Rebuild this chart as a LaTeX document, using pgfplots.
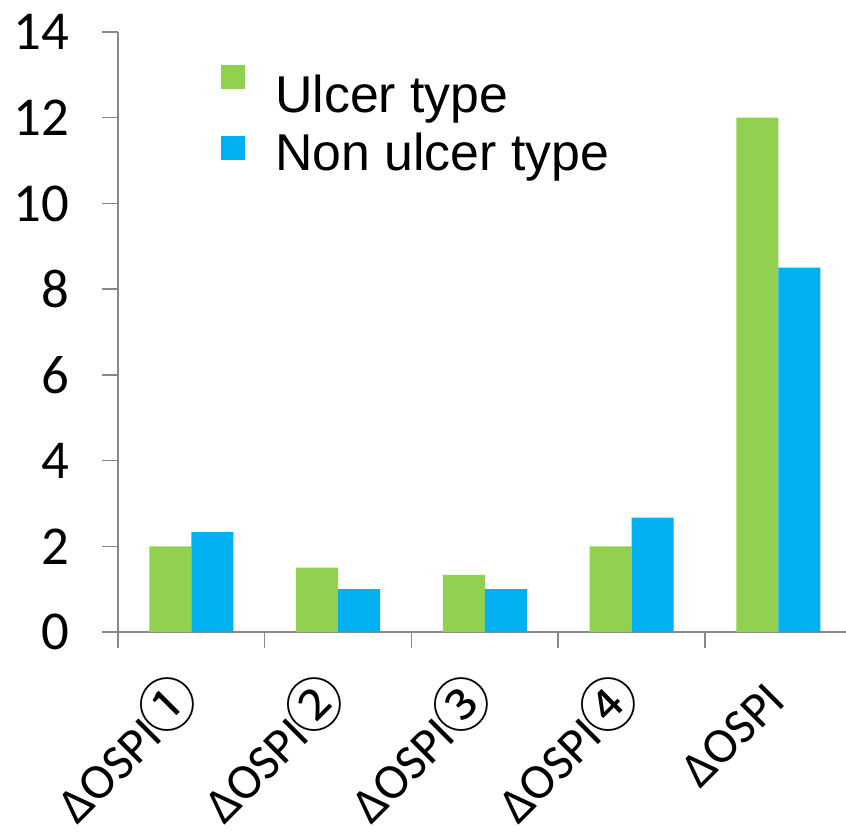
\documentclass[border=0pt]{standalone}
\usepackage{pgfplots}
\pgfplotsset{compat=1.18}
\usepackage{fontspec}
\setmainfont{Carlito}
\newfontfamily\arialf{Liberation Sans}
\newfontfamily\cjk{Noto Sans CJK JP}
\definecolor{ulcer}{HTML}{92D050}
\definecolor{nonulcer}{HTML}{00B0F0}
\definecolor{axgray}{HTML}{898989}
\newcommand{\circd}[1]{\kern-2bp{\cjk\fontsize{58}{62}\selectfont #1}\kern-5bp}
\begin{document}
\begin{tikzpicture}
\begin{axis}[
  at={(0,0)}, anchor=south west,
  width=728bp, height=600bp, scale only axis,
  xmin=-0.5, xmax=4.461, ymin=0, ymax=14,
  axis x line=bottom, axis y line=left,
  axis line style={-, draw=axgray, line width=1.5bp},
  ytick={0,2,...,14},
  tick align=outside,
  major tick length=16bp,
  tick style={draw=axgray, line width=1.5bp},
  xtick={-0.5,0.5,1.5,2.5,3.5},
  xticklabels={},
  extra x ticks={0,1,2,3,4},
  extra x tick labels={ΔOSPI\circd{①}, ΔOSPI\circd{②}, ΔOSPI\circd{③}, ΔOSPI\circd{④}, ΔOSPI},
  extra x tick style={major tick length=0pt},
  xticklabel style={font=\fontsize{50}{54}\selectfont, yshift=-71bp, xshift=9bp, rotate=45, anchor=base east, inner sep=0pt},
  /pgf/number format/assume math mode=true,
  yticklabel style={font=\fontsize{55}{60}\selectfont, anchor=east, inner sep=0pt, xshift=-33bp},
  legend style={at={(rel axis cs:0.1415,0.945)}, anchor=north west, draw=none, fill=none,
    font=\arialf\fontsize{52}{58}\selectfont, row sep=6bp, inner sep=0pt, column sep=30bp,
    nodes={inner sep=0pt, text height=40bp, text depth=12bp}},
  legend cell align=left,
]
\addplot[ybar, bar width=0.286, bar shift=-0.143, fill=ulcer, draw=none,
  legend image code/.code={\fill[fill=ulcer] (0bp,9bp) rectangle (24bp,33bp);}]
  coordinates {(0,2) (1,1.5) (2,1.333) (3,2) (4,12)};
\addlegendentry{Ulcer type}
\addplot[ybar, bar width=0.286, bar shift=0.143, fill=nonulcer, draw=none,
  legend image code/.code={\fill[fill=nonulcer] (0bp,-4bp) rectangle (24bp,20bp);}]
  coordinates {(0,2.333) (1,1) (2,1) (3,2.667) (4,8.5)};
\addlegendentry{Non ulcer type}
\end{axis}
\pgfresetboundingbox
\path[use as bounding box] (-118bp,-204bp) rectangle (728bp,632bp);
\end{tikzpicture}
\end{document}
